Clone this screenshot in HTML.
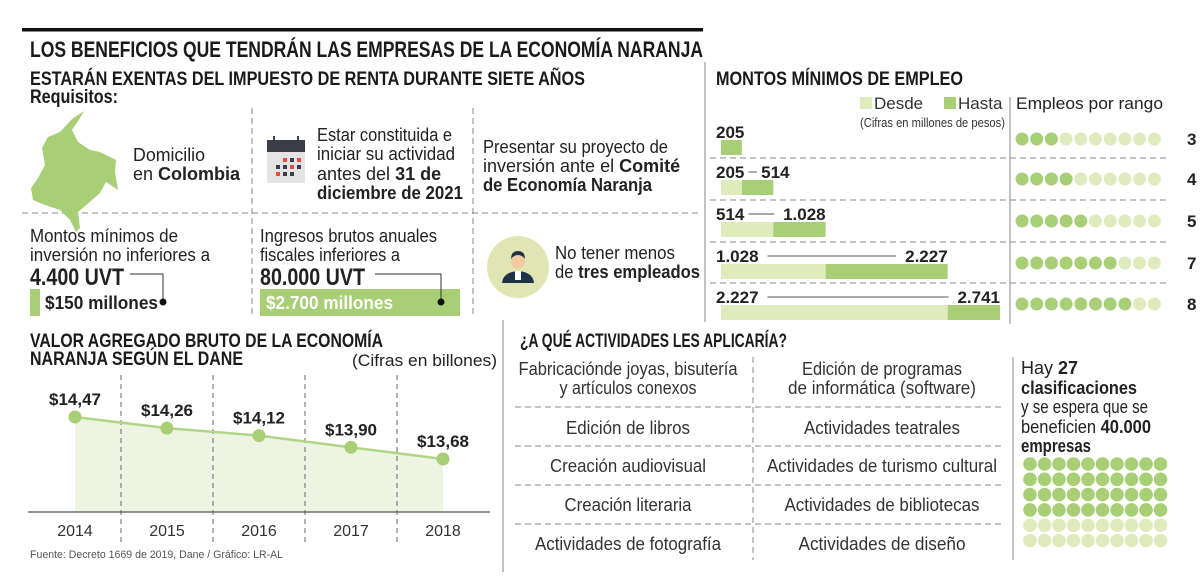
<!DOCTYPE html>
<html><head><meta charset="utf-8"><style>
html,body{margin:0;padding:0;background:#fff;}
svg{display:block;font-family:"Liberation Sans Narrow","Liberation Sans",sans-serif;}
.b{font-weight:bold;}
</style></head><body>
<svg id="root" width="1200" height="587" viewBox="0 0 1200 587" xmlns="http://www.w3.org/2000/svg">
<rect x="0" y="0" width="1200" height="587" fill="#fff"/>
<rect x="22" y="28" width="681" height="3.5" fill="#111"/>
<text x="30" y="57" font-size="22" class="b" fill="#1a1a1a" textLength="673" lengthAdjust="spacingAndGlyphs">LOS BENEFICIOS QUE TENDRÁN LAS EMPRESAS DE LA ECONOMÍA NARANJA</text>
<text x="30" y="85" font-size="19" class="b" fill="#1a1a1a" textLength="555" lengthAdjust="spacingAndGlyphs">ESTARÁN EXENTAS DEL IMPUESTO DE RENTA DURANTE SIETE AÑOS</text>
<text x="30" y="103" font-size="19" class="b" fill="#1a1a1a" textLength="88" lengthAdjust="spacingAndGlyphs">Requisitos:</text>

<g stroke="#888" stroke-width="1" stroke-dasharray="6,4" fill="none">
<line x1="252" y1="108" x2="252" y2="318"/><line x1="473" y1="108" x2="473" y2="318"/>
<line x1="22" y1="213" x2="700" y2="213"/>
</g>
<line x1="705" y1="62" x2="705" y2="322" stroke="#999" stroke-width="1.2"/>

<polygon points="84,111 72,119 60,132 48,137 42,148 45,165 38,178 31,188 33,200 45,205 60,210 70,220 76,232 80,228 78,212 92,200 100,193 106,182 118,190 115,172 116,160 100,152 90,150 78,142 72,130 80,118" fill="#a8cf76"/>
<text x="133" y="161" font-size="18" fill="#222" textLength="72" lengthAdjust="spacingAndGlyphs">Domicilio</text>
<text x="133" y="180" font-size="18" fill="#222">en <tspan class="b">Colombia</tspan></text>

<g>
<rect x="267" y="140" width="38" height="43" fill="#e4e4e4"/><rect x="267" y="140" width="38" height="12" fill="#3a3d48"/>
<rect x="273" y="136" width="2" height="7" fill="#3a3d48"/><rect x="297" y="136" width="2" height="7" fill="#3a3d48"/>
<rect x="283" y="158" width="4" height="4" fill="#e74c3c"/><rect x="290" y="158" width="4" height="4" fill="#3a3d48"/><rect x="297" y="158" width="4" height="4" fill="#e74c3c"/>
<rect x="276" y="165" width="4" height="4" fill="#3a3d48"/><rect x="283" y="165" width="4" height="4" fill="#3a3d48"/><rect x="290" y="165" width="4" height="4" fill="#e74c3c"/><rect x="297" y="165" width="4" height="4" fill="#3a3d48"/>
<rect x="276" y="172" width="4" height="4" fill="#e74c3c"/><rect x="283" y="172" width="4" height="4" fill="#3a3d48"/><rect x="290" y="172" width="4" height="4" fill="#3a3d48"/>
</g>
<g font-size="18" fill="#222">
<text x="317" y="141" textLength="135" lengthAdjust="spacingAndGlyphs">Estar constituida e</text>
<text x="317" y="160" textLength="138" lengthAdjust="spacingAndGlyphs">iniciar su actividad</text>
<text x="317" y="180">antes del <tspan class="b">31 de</tspan></text>
<text x="317" y="199" class="b" textLength="146" lengthAdjust="spacingAndGlyphs">diciembre de 2021</text>
</g>
<g font-size="18" fill="#222">
<text x="483" y="153" textLength="185" lengthAdjust="spacingAndGlyphs">Presentar su proyecto de</text>
<text x="483" y="172">inversión ante el <tspan class="b">Comité</tspan></text>
<text x="483" y="191" class="b" textLength="169" lengthAdjust="spacingAndGlyphs">de Economía Naranja</text>
</g>

<g font-size="18" fill="#222">
<text x="30" y="242" textLength="148" lengthAdjust="spacingAndGlyphs">Montos mínimos de</text>
<text x="30" y="261" textLength="180" lengthAdjust="spacingAndGlyphs">inversión no inferiores a</text>
<text x="30" y="285" font-size="24" class="b" textLength="94" lengthAdjust="spacingAndGlyphs">4.400 UVT</text>
</g>
<polyline points="130,274 163,274 163,302" fill="none" stroke="#333" stroke-width="1"/>
<circle cx="163" cy="302" r="3.5" fill="#111"/>
<rect x="30" y="289" width="10" height="27" fill="#a8cf76"/>
<text x="45" y="309" font-size="18" class="b" fill="#222" textLength="113" lengthAdjust="spacingAndGlyphs">$150 millones</text>

<g font-size="18" fill="#222">
<text x="260" y="242" textLength="177" lengthAdjust="spacingAndGlyphs">Ingresos brutos anuales</text>
<text x="260" y="261" textLength="140" lengthAdjust="spacingAndGlyphs">fiscales inferiores a</text>
<text x="260" y="285" font-size="24" class="b" textLength="105" lengthAdjust="spacingAndGlyphs">80.000 UVT</text>
</g>
<rect x="260" y="289" width="200" height="27" fill="#a8cf76"/>
<polyline points="375,274 441,274 441,302" fill="none" stroke="#333" stroke-width="1"/>
<circle cx="441" cy="302" r="3.5" fill="#111"/>
<text x="266" y="309" font-size="18" class="b" fill="#fff" textLength="127" lengthAdjust="spacingAndGlyphs">$2.700 millones</text>

<g>
<circle cx="518" cy="267" r="31" fill="#dfe6b4"/>
<path d="M502,283 Q503,272 518,271 Q533,272 534,283 Z" fill="#1f3347"/>
<rect x="515" y="271" width="6" height="9" fill="#fff"/>
<ellipse cx="518" cy="261" rx="7" ry="8" fill="#f2c9a0"/>
<path d="M511,259 Q511,251 518,251 Q525,251 525,259 Q522,255 518,255 Q514,255 511,259Z" fill="#1f3347"/>
</g>
<text x="555" y="259" font-size="18" fill="#222" textLength="120" lengthAdjust="spacingAndGlyphs">No tener menos</text>
<text x="555" y="278" font-size="18" fill="#222" textLength="145" lengthAdjust="spacingAndGlyphs">de <tspan class="b">tres empleados</tspan></text>

<text x="716" y="85" font-size="19" class="b" fill="#1a1a1a" textLength="247" lengthAdjust="spacingAndGlyphs">MONTOS MÍNIMOS DE EMPLEO</text>
<rect x="860" y="97" width="12" height="12" fill="#e0ebbd"/>
<text x="874" y="109" font-size="17" fill="#333">Desde</text>
<rect x="944" y="97" width="12" height="12" fill="#a8cf76"/>
<text x="958" y="109" font-size="17" fill="#333">Hasta</text>
<text x="860" y="127" font-size="13" fill="#333" textLength="145" lengthAdjust="spacingAndGlyphs">(Cifras en millones de pesos)</text>
<line x1="1010" y1="97" x2="1010" y2="324" stroke="#888" stroke-width="1"/>
<text x="1016" y="109" font-size="17" fill="#222" textLength="147" lengthAdjust="spacingAndGlyphs">Empleos por rango</text>
<g id="emp"></g>

<text x="30" y="347" font-size="19" class="b" fill="#1a1a1a" textLength="353" lengthAdjust="spacingAndGlyphs">VALOR AGREGADO BRUTO DE LA ECONOMÍA</text>
<text x="30" y="365" font-size="19" class="b" fill="#1a1a1a" textLength="213" lengthAdjust="spacingAndGlyphs">NARANJA SEGÚN EL DANE</text>
<text x="497" y="366" font-size="17" fill="#222" text-anchor="end" textLength="145" lengthAdjust="spacingAndGlyphs">(Cifras en billones)</text>
<g id="gva"></g>
<text x="30" y="558" font-size="11" fill="#555" textLength="253" lengthAdjust="spacingAndGlyphs">Fuente: Decreto 1669 de 2019, Dane / Gráfico: LR-AL</text>

<line x1="503" y1="320" x2="503" y2="572" stroke="#999" stroke-width="1.2"/>
<text x="520" y="347" font-size="19" class="b" fill="#1a1a1a" textLength="267" lengthAdjust="spacingAndGlyphs">¿A QUÉ ACTIVIDADES LES APLICARÍA?</text>
<g stroke="#888" stroke-width="1" stroke-dasharray="6,4">
<line x1="753" y1="357" x2="753" y2="560"/>
<line x1="515" y1="407" x2="1005" y2="407"/><line x1="515" y1="446" x2="1005" y2="446"/>
<line x1="515" y1="485" x2="1005" y2="485"/><line x1="515" y1="524" x2="1005" y2="524"/>
</g>
<g font-size="18" fill="#333" text-anchor="middle">
<text x="628" y="375" textLength="219" lengthAdjust="spacingAndGlyphs">Fabricaciónde joyas, bisutería</text>
<text x="628" y="394" textLength="137" lengthAdjust="spacingAndGlyphs">y artículos conexos</text>
<text x="628" y="434" textLength="124" lengthAdjust="spacingAndGlyphs">Edición de libros</text>
<text x="628" y="472" textLength="156" lengthAdjust="spacingAndGlyphs">Creación audiovisual</text>
<text x="628" y="511" textLength="127" lengthAdjust="spacingAndGlyphs">Creación literaria</text>
<text x="628" y="550" textLength="186" lengthAdjust="spacingAndGlyphs">Actividades de fotografía</text>
<text x="882" y="375" textLength="160" lengthAdjust="spacingAndGlyphs">Edición de programas</text>
<text x="882" y="394" textLength="188" lengthAdjust="spacingAndGlyphs">de informática (software)</text>
<text x="882" y="434" textLength="156" lengthAdjust="spacingAndGlyphs">Actividades teatrales</text>
<text x="882" y="472" textLength="230" lengthAdjust="spacingAndGlyphs">Actividades de turismo cultural</text>
<text x="882" y="511" textLength="195" lengthAdjust="spacingAndGlyphs">Actividades de bibliotecas</text>
<text x="882" y="550" textLength="167" lengthAdjust="spacingAndGlyphs">Actividades de diseño</text>
</g>
<line x1="1013" y1="357" x2="1013" y2="560" stroke="#888" stroke-width="1"/>
<g font-size="18" fill="#222">
<text x="1021" y="374">Hay <tspan class="b">27</tspan></text>
<text x="1021" y="394" class="b" textLength="116" lengthAdjust="spacingAndGlyphs">clasificaciones</text>
<text x="1021" y="413" textLength="127" lengthAdjust="spacingAndGlyphs">y se espera que se</text>
<text x="1021" y="433" textLength="130" lengthAdjust="spacingAndGlyphs">beneficien <tspan class="b">40.000</tspan></text>
<text x="1021" y="452" class="b" textLength="70" lengthAdjust="spacingAndGlyphs">empresas</text>
</g>
<g id="cls"></g>
</svg>
<script>
// Employment chart data
const empFrom = [0, 205, 514, 1028, 2227];
const empTo = [205, 514, 1028, 2227, 2741];
const empFromLabels = ["", "205", "514", "1.028", "2.227"];
const empToLabels = ["205", "514", "1.028", "2.227", "2.741"];
const empCount = [3, 4, 5, 7, 8];
// GVA chart data
const gvaYears = ["2014", "2015", "2016", "2017", "2018"];
const gvaValues = [14.47, 14.26, 14.12, 13.90, 13.68];
const gvaLabels = ["$14,47", "$14,26", "$14,12", "$13,90", "$13,68"];
// Classifications dots
const clsDark = 40;
const clsTotal = 60;

const NS = "http://www.w3.org/2000/svg";
function mk(tag, attrs, parent, txt){
  const e = document.createElementNS(NS, tag);
  for (const k in attrs) e.setAttribute(k, attrs[k]);
  if (txt !== undefined) e.textContent = txt;
  parent.appendChild(e);
  return e;
}
const DARK = "#a8cf76", LIGHT = "#e0ebbd";

// employment chart
(function(){
  const g = document.getElementById('emp');
  const x0 = 721, maxV = 2741, wMax = 279;
  const xs = v => x0 + v / maxV * wMax;
  const rowTop = [123, 163, 205, 247, 288];
  for (let i = 0; i < empTo.length; i++) {
    const t = rowTop[i];
    const base = t + 15;
    if (i > 0) {
      const sep = mk('line', {x1:710, y1:t-5, x2:1170, y2:t-5, stroke:'#888', 'stroke-dasharray':'6,4'}, g);
      
      
    }
    const fromW = xs(empFrom[i]) - x0;
    const lb = mk('rect', {x:x0, y:t+17, width:Math.max(0, fromW), height:15, fill:LIGHT}, g);
    
    
    const db = mk('rect', {x:xs(empFrom[i]), y:t+17, width:Math.max(0, xs(empTo[i]) - xs(empFrom[i])), height:15, fill:DARK}, g);
    
    
    if (empFromLabels[i]) {
      const fl = mk('text', {x:716, y:base, 'font-size':17, 'font-weight':'bold', fill:'#222'}, g, empFromLabels[i]);
      
      
      const fEnd = 716 + empFromLabels[i].length * 9.5;
      const endX = Math.max(xs(empTo[i]), fEnd + 45);
      const tl = mk('text', {x:endX, y:base, 'font-size':17, 'font-weight':'bold', fill:'#222', 'text-anchor':'end'}, g, empToLabels[i]);
      
      
      const tStart = endX - empToLabels[i].length * 9.5;
      const cl = mk('line', {x1:fEnd + 4, y1:base - 6, x2:tStart - 4, y2:base - 6, stroke:'#777', 'stroke-width':1.2}, g);
      
      
    } else {
      const tl = mk('text', {x:716, y:base, 'font-size':17, 'font-weight':'bold', fill:'#222'}, g, empToLabels[i]);
      
      
    }
    const cy = t + 16;
    for (let d = 0; d < 10; d++) {
      const c = mk('circle', {cx:1022 + d * 14.7, cy:cy, r:6.5, fill: d < empCount[i] ? DARK : LIGHT}, g);
      
      
    }
    const n = mk('text', {x:1187, y:cy + 6, 'font-size':17, 'font-weight':'bold', fill:'#222'}, g, String(empCount[i]));
    
    
  }
})();

// GVA line chart
(function(){
  const g = document.getElementById('gva');
  const x = i => 75 + i * 92;
  const y = v => 417 + (14.47 - v) * 53.2;
  const axisY = 512;
  let d = 'M' + x(0) + ',' + axisY;
  gvaValues.forEach((v, i) => { d += ' L' + x(i) + ',' + y(v); });
  d += ' L' + x(gvaValues.length - 1) + ',' + axisY + ' Z';
  const area = mk('path', {d:d, fill:'#eef4e2'}, g);
  
  
  for (let i = 0; i < gvaYears.length - 1; i++) {
    const gl = mk('line', {x1:x(i) + 46, y1:375, x2:x(i) + 46, y2:543, stroke:'#666', 'stroke-dasharray':'5,4'}, g);
    
    
  }
  const ax = mk('line', {x1:28, y1:axisY, x2:490, y2:axisY, stroke:'#555', 'stroke-width':1.2}, g);
  
  
  const pts = gvaValues.map((v, i) => x(i) + ',' + y(v)).join(' ');
  const ln = mk('polyline', {points:pts, fill:'none', stroke:'#b1d586', 'stroke-width':2.5}, g);
  
  
  gvaValues.forEach((v, i) => {
    const c = mk('circle', {cx:x(i), cy:y(v), r:6.5, fill:'#a8cf76'}, g);
    
    
    const t = mk('text', {x:x(i), y:y(v) - 12, 'font-size':17, 'font-weight':'bold', fill:'#222', 'text-anchor':'middle'}, g, gvaLabels[i]);
    
    
    const yr = mk('text', {x:x(i), y:536, 'font-size':16, fill:'#333', 'text-anchor':'middle'}, g, gvaYears[i]);
    
    
  });
})();

// classification dots
(function(){
  const g = document.getElementById('cls');
  for (let k = 0; k < clsTotal; k++) {
    const r = Math.floor(k / 10), c = k % 10;
    const e = mk('circle', {cx:1030 + c * 14.5, cy:464 + r * 15.3, r:6.8, fill: k < clsDark ? DARK : LIGHT}, g);
    
    
  }
})();
</script>
</body></html>
